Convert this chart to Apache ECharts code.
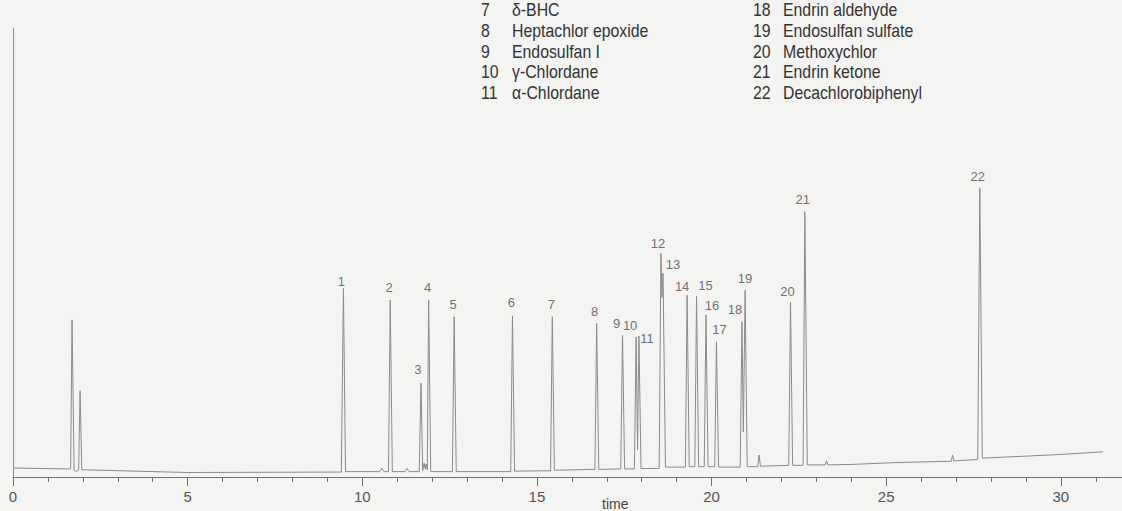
<!DOCTYPE html>
<html>
<head>
<meta charset="utf-8">
<title>Chromatogram</title>
<script src="https://cdn.jsdelivr.net/npm/echarts@6/dist/echarts.min.js"></script>
<style>
  html, body { margin: 0; padding: 0; background: #f4f4f2; }
  #chart { width: 1122px; height: 511px; }
</style>
</head>
<body>
<div id="chart"></div>
<script>
// trace: time (min) / detector signal
var traceTime = [
  0, 1.55, 1.65, 1.69, 1.75, 1.80, 1.88, 1.92, 1.97, 2.05, 5.0,
  9.40, 9.46, 9.52, 10.50, 10.56, 10.62, 10.75, 10.80, 10.86,
  11.22, 11.28, 11.34, 11.63, 11.68, 11.73, 11.77, 11.80, 11.83, 11.86, 11.90, 11.96,
  12.58, 12.63, 12.69, 14.25, 14.30, 14.36, 15.39, 15.44, 15.50,
  16.66, 16.71, 16.77, 17.40, 17.45, 17.51, 17.79, 17.84, 17.88, 17.92, 17.98,
  18.50, 18.55, 18.58, 18.61, 18.68, 19.25, 19.30, 19.36, 19.52, 19.57, 19.63,
  19.79, 19.84, 19.90, 20.09, 20.14, 20.20, 20.82, 20.87, 20.91, 20.96, 21.02,
  21.32, 21.36, 21.40, 22.21, 22.26, 22.32, 22.62, 22.67, 22.74,
  23.25, 23.29, 23.33, 24.0, 25.25, 26.25, 26.86, 26.90, 26.94,
  27.62, 27.68, 27.75, 29.7, 31.2
];
var traceSignal = [
  2.0, 1.8, 1.8, 35.0, 1.6, 1.2, 1.6, 19.2, 1.6, 1.6, 1.0,
  1.1, 42.0, 1.2, 1.2, 2.0, 1.2, 1.2, 39.4, 1.2,
  1.2, 1.9, 1.2, 1.2, 20.9, 1.4, 3.1, 1.8, 2.9, 1.6, 39.4, 1.2,
  1.2, 35.7, 1.2, 1.2, 35.9, 1.3, 1.4, 35.7, 1.5,
  1.7, 34.2, 1.7, 1.8, 31.6, 1.8, 1.8, 31.2, 6.0, 31.4, 1.9,
  1.9, 49.8, 40.0, 45.4, 2.2, 2.2, 40.5, 2.3, 2.3, 40.2, 2.3,
  2.3, 36.1, 2.3, 2.3, 30.1, 2.2, 2.2, 34.6, 10.0, 41.6, 2.3,
  2.3, 4.9, 2.4, 2.6, 39.0, 2.6, 2.6, 59.1, 2.7,
  2.7, 3.6, 2.7, 2.8, 3.2, 3.4, 3.5, 4.9, 3.6,
  3.9, 64.3, 4.2, 4.9, 5.6
];

// numbered peaks
var peakNumbers = ['1', '2', '3', '4', '5', '6', '7', '8', '9', '10', '11',
  '12', '13', '14', '15', '16', '17', '18', '19', '20', '21', '22'];
var peakTime = [9.46, 10.80, 11.68, 11.90, 12.63, 14.30, 15.44, 16.71, 17.45, 17.84, 17.92,
  18.55, 18.61, 19.30, 19.57, 19.84, 20.14, 20.87, 20.96, 22.26, 22.67, 27.68];
var peakHeight = [42.0, 39.4, 20.9, 39.4, 35.7, 35.9, 35.7, 34.2, 31.6, 31.2, 31.4,
  49.8, 45.4, 40.5, 40.2, 36.1, 30.1, 34.6, 41.6, 39.0, 59.1, 64.3];

// compound list (visible part)
var listLeftNumbers = ['7', '8', '9', '10', '11'];
var listLeftNames = ['δ-BHC', 'Heptachlor epoxide', 'Endosulfan I', 'γ-Chlordane', 'α-Chlordane'];
var listRightNumbers = ['18', '19', '20', '21', '22'];
var listRightNames = ['Endrin aldehyde', 'Endosulfan sulfate', 'Methoxychlor', 'Endrin ketone', 'Decachlorobiphenyl'];

// label nudges in px, so numbers sit where the original put them
var labelNudge = {
  '1': [-2, -7], '2': [-1, -13], '3': [-3, -14], '4': [-1, -13], '5': [-1, -12],
  '6': [-1, -13], '7': [-1, -12], '8': [-2, -12], '9': [-6, -12], '10': [-6, -11],
  '11': [8, 2], '12': [-3, -10], '13': [10, -9], '14': [-5, -9], '15': [9, -11],
  '16': [6, -9], '17': [3, -12], '18': [-7, -12], '19': [0, -12], '20': [-3, -10],
  '21': [-2, -12], '22': [-2, -12]
};

var plain = "'Liberation Sans', Arial, sans-serif";

var chart = echarts.init(document.getElementById('chart'), null, { renderer: 'svg' });

var traceData = traceTime.map(function (t, i) { return [t, traceSignal[i]]; });
var peakData = peakTime.map(function (t, i) {
  var n = peakNumbers[i];
  return {
    name: n,
    value: [t, peakHeight[i]],
    label: { offset: labelNudge[n] || [0, -12] }
  };
});

// compound list as graphic text (squeezed a bit, the original uses a condensed face)
var listGraphics = [];
var rowY = [10, 31, 52, 72.5, 93];
var squeeze = 0.88;
function addText(txt, x, y) {
  listGraphics.push({
    type: 'text', x: x, y: y, scaleX: squeeze,
    style: { text: txt, font: '18px ' + plain, fill: '#333', verticalAlign: 'middle' }
  });
}
function addColumn(nums, names, xNum, xName) {
  nums.forEach(function (n, i) {
    addText(n, xNum, rowY[i]);
    addText(names[i], xName, rowY[i]);
  });
}
addColumn(listLeftNumbers, listLeftNames, 481, 512);
addColumn(listRightNumbers, listRightNames, 753, 783);
listGraphics.push({
  type: 'text', x: 602, y: 504,
  style: { text: 'time', font: '14px ' + plain, fill: '#444', verticalAlign: 'middle' }
});

var option = {
  backgroundColor: '#f4f4f2',
  animation: false,
  grid: { left: 13, top: 28, bottom: 34, width: 1222.5, outerBoundsMode: 'none', containLabel: false },
  xAxis: {
    type: 'value',
    min: 0,
    max: 35,
    interval: 5,
    axisLine: { show: true, lineStyle: { color: '#707070', width: 1 } },
    axisTick: { show: true, length: 9, lineStyle: { color: '#707070' } },
    minorTick: { show: true, splitNumber: 5, length: 5, lineStyle: { color: '#707070' } },
    axisLabel: {
      margin: 12, color: '#555', fontSize: 15, fontFamily: plain,
      formatter: function (v) { return v > 31 ? '' : String(v); }
    },
    splitLine: { show: false }
  },
  yAxis: {
    type: 'value',
    min: 0,
    max: 100,
    axisLine: { show: true, lineStyle: { color: '#8c8c8c', width: 1 } },
    axisTick: { show: false },
    axisLabel: { show: false },
    splitLine: { show: false }
  },
  graphic: listGraphics,
  series: [
    {
      type: 'line',
      data: traceData,
      showSymbol: false,
      symbol: 'none',
      lineStyle: { color: '#8a8a8a', width: 1 },
      silent: true
    },
    {
      type: 'scatter',
      data: peakData,
      symbolSize: 1,
      itemStyle: { color: 'rgba(0,0,0,0)' },
      label: {
        show: true,
        position: 'inside',
        formatter: '{b}',
        color: '#4a4a4a',
        textBorderWidth: 0,
        textBorderColor: 'transparent',
        fontSize: 13,
        fontFamily: plain
      },
      silent: true
    }
  ]
};
chart.setOption(option);
</script>
</body>
</html>
